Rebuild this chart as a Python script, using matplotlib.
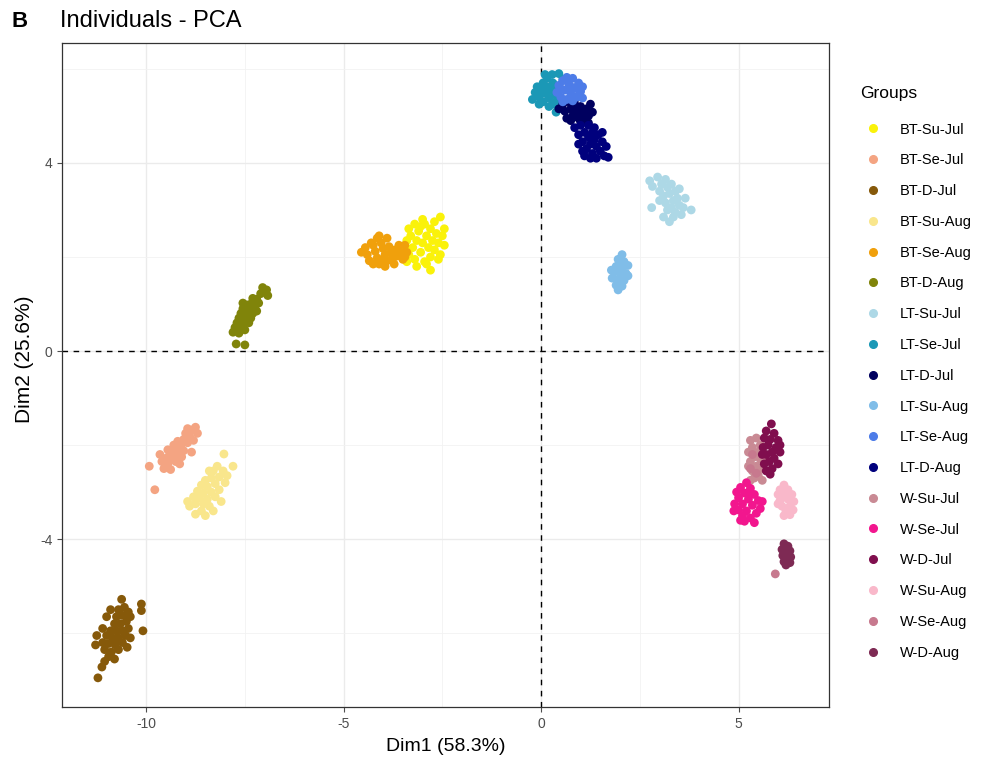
import numpy as np
import matplotlib
matplotlib.use("Agg")
import matplotlib.pyplot as plt
from matplotlib.lines import Line2D

plt.rcParams['font.family'] = ['Liberation Sans', 'DejaVu Sans']
plt.rcParams['axes.unicode_minus'] = False

# individual coordinates (Dim1, Dim2), one list per group
bt_su_jul = [(-3.45,2.20), (-3.40,2.35), (-3.35,2.05), (-3.30,2.45), (-3.25,2.20), (-3.20,1.95),
             (-3.15,2.35), (-3.10,2.55), (-3.05,2.10), (-3.00,2.30), (-2.95,1.90), (-2.95,2.70),
             (-2.90,2.45), (-2.85,2.20), (-2.80,2.60), (-2.80,2.00), (-2.75,2.35), (-2.70,2.15),
             (-2.65,2.50), (-2.60,2.30), (-2.55,2.05), (-2.55,2.85), (-2.50,2.45), (-2.45,2.25),
             (-2.45,2.60), (-3.15,1.80), (-2.80,1.72), (-3.00,2.80), (-3.35,2.60), (-2.70,2.75),
             (-3.20,2.70), (-2.90,1.85), (-3.05,2.65), (-2.60,1.95), (-3.40,1.90)]
bt_se_jul = [(-8.75,-1.62), (-8.85,-1.68), (-8.95,-1.65), (-8.90,-1.80), (-9.00,-1.75), (-9.05,-1.88),
             (-8.95,-1.95), (-9.10,-1.98), (-9.20,-1.92), (-9.15,-2.08), (-9.25,-2.05), (-9.05,-2.12),
             (-9.30,-2.15), (-9.20,-2.22), (-9.40,-2.20), (-9.35,-2.30), (-9.50,-2.28), (-9.25,-2.35),
             (-9.45,-2.40), (-9.60,-2.35), (-9.55,-2.50), (-9.38,-2.52), (-9.15,-2.40), (-9.65,-2.20),
             (-9.10,-2.25), (-8.80,-1.90), (-9.92,-2.45), (-9.78,-2.95), (-8.85,-2.15), (-9.30,-2.00),
             (-9.45,-2.10), (-8.70,-1.75)]
bt_d_jul = [(-10.62,-5.28), (-10.12,-5.38), (-10.12,-5.52), (-10.08,-5.95), (-11.05,-6.60),
            (-11.22,-6.95), (-11.12,-6.72), (-10.70,-5.50), (-10.55,-5.45), (-10.45,-5.55),
            (-10.90,-5.50), (-11.00,-5.65), (-10.40,-5.65), (-10.60,-5.62), (-10.75,-5.65),
            (-10.50,-5.75), (-10.65,-5.80), (-10.80,-5.80), (-10.45,-5.90), (-10.60,-5.95),
            (-10.75,-5.95), (-10.90,-5.95), (-11.10,-5.90), (-11.25,-6.05), (-10.52,-6.05),
            (-10.70,-6.10), (-10.85,-6.10), (-11.00,-6.05), (-10.60,-6.20), (-10.78,-6.25),
            (-10.95,-6.22), (-11.10,-6.20), (-11.28,-6.25), (-10.70,-6.35), (-10.88,-6.40),
            (-11.05,-6.35), (-10.80,-6.55), (-10.95,-6.50), (-10.40,-6.10), (-10.48,-6.30)]
bt_su_aug = [(-8.03,-2.19), (-7.80,-2.45), (-8.20,-2.45), (-8.05,-2.55), (-8.30,-2.55), (-7.95,-2.65),
             (-8.15,-2.68), (-8.35,-2.70), (-8.50,-2.75), (-8.00,-2.80), (-8.25,-2.82), (-8.45,-2.88),
             (-8.60,-2.85), (-8.15,-2.95), (-8.35,-3.00), (-8.55,-3.02), (-8.70,-2.98), (-8.25,-3.10),
             (-8.45,-3.15), (-8.65,-3.12), (-8.80,-3.10), (-8.55,-3.25), (-8.75,-3.25), (-8.40,-3.30),
             (-8.90,-3.30), (-8.60,-3.40), (-8.75,-3.47), (-8.30,-3.40), (-8.40,-2.55), (-8.10,-3.20),
             (-8.95,-3.20), (-8.50,-3.50)]
bt_se_aug = [(-4.55,2.10), (-4.45,2.20), (-4.40,2.05), (-4.35,1.92), (-4.25,2.25), (-4.20,2.12),
             (-4.15,1.98), (-4.10,1.85), (-4.05,2.30), (-4.00,2.18), (-3.95,2.05), (-3.90,1.92),
             (-3.85,2.22), (-3.80,2.10), (-3.75,1.98), (-3.70,2.15), (-3.65,2.02), (-3.60,2.25),
             (-3.55,2.10), (-3.50,1.95), (-3.90,2.40), (-3.95,1.80), (-4.15,2.40), (-3.45,2.25),
             (-3.45,2.00), (-4.30,2.30), (-4.00,1.95), (-3.72,1.85), (-4.25,1.85), (-3.40,2.10),
             (-4.10,2.45)]
bt_d_aug = [(-6.95,1.30), (-7.05,1.35), (-7.10,1.22), (-6.92,1.18), (-7.20,1.10), (-7.30,1.12),
            (-7.15,1.02), (-7.35,1.00), (-7.45,0.98), (-7.25,0.92), (-7.40,0.88), (-7.55,0.90),
            (-7.30,0.80), (-7.45,0.78), (-7.60,0.80), (-7.50,0.68), (-7.65,0.70), (-7.35,0.70),
            (-7.55,0.58), (-7.70,0.60), (-7.40,0.60), (-7.60,0.48), (-7.75,0.50), (-7.50,0.45),
            (-7.65,0.38), (-7.80,0.40), (-7.72,0.15), (-7.50,0.13), (-7.20,0.85), (-7.55,1.02)]
lt_su_jul = [(2.75,3.62), (2.95,3.70), (2.82,3.50), (3.05,3.55), (3.15,3.65), (3.00,3.40), (3.10,3.30),
             (3.20,3.48), (3.30,3.55), (3.25,3.35), (3.35,3.20), (3.15,3.15), (3.40,3.40), (3.45,3.25),
             (3.30,3.05), (3.50,3.10), (3.20,3.00), (3.40,2.95), (3.60,3.05), (3.55,2.90), (3.35,2.85),
             (3.65,3.25), (3.80,3.00), (3.10,2.85), (2.80,3.05), (3.00,3.20), (3.50,3.45), (3.25,2.75)]
lt_se_jul = [(-0.22,5.35), (-0.15,5.50), (-0.10,5.62), (-0.05,5.40), (0.00,5.55), (0.05,5.70),
             (0.05,5.30), (0.10,5.48), (0.15,5.62), (0.15,5.80), (0.20,5.38), (0.25,5.55), (0.30,5.70),
             (0.30,5.25), (0.35,5.45), (0.40,5.60), (0.45,5.90), (0.40,5.32), (0.20,5.20), (0.38,5.08),
             (-0.05,5.25), (0.10,5.88), (0.55,5.78), (0.28,5.88)]
lt_d_jul = [(0.45,5.15), (0.55,5.25), (0.60,5.10), (0.70,5.30), (0.75,5.15), (0.80,5.00), (0.85,5.25),
            (0.90,5.10), (0.95,4.95), (1.00,5.20), (1.05,5.05), (1.10,4.90), (1.15,5.15), (1.20,5.00),
            (1.25,5.25), (1.00,4.88), (0.65,4.95), (1.30,5.08), (0.85,5.35), (1.20,4.85), (0.75,4.90)]
lt_su_aug = [(2.05,2.05), (1.95,1.95), (2.10,1.90), (1.90,1.80), (2.05,1.78), (2.20,1.82), (1.85,1.68),
             (2.00,1.65), (2.15,1.65), (1.80,1.55), (1.95,1.52), (2.10,1.50), (1.90,1.40), (2.05,1.38),
             (1.95,1.30), (2.20,1.60), (1.78,1.72), (2.00,1.88)]
lt_se_aug = [(0.40,5.50), (0.45,5.65), (0.50,5.40), (0.55,5.75), (0.60,5.55), (0.65,5.35), (0.70,5.68),
             (0.75,5.48), (0.80,5.80), (0.85,5.60), (0.90,5.40), (0.95,5.70), (1.00,5.52), (1.05,5.38),
             (0.65,5.82), (0.55,5.30), (0.80,5.32), (0.75,5.62), (0.95,5.55), (0.50,5.58), (1.05,5.62)]
lt_d_aug = [(0.85,4.75), (0.95,4.60), (1.00,4.80), (1.05,4.45), (1.10,4.65), (1.15,4.30), (1.20,4.55),
            (1.20,4.80), (1.25,4.40), (1.30,4.20), (1.30,4.65), (1.35,4.50), (1.40,4.10), (1.40,4.35),
            (1.45,4.60), (1.50,4.25), (1.55,4.45), (1.60,4.15), (1.65,4.35), (1.70,4.12), (1.10,4.15),
            (0.95,4.40), (1.35,4.75), (1.55,4.65), (1.25,4.10), (1.05,4.25)]
w_su_jul = [(5.30,-1.90), (5.45,-1.85), (5.55,-2.00), (5.35,-2.05), (5.25,-2.15), (5.50,-2.15),
            (5.40,-2.25), (5.30,-2.35), (5.55,-2.30), (5.45,-2.45), (5.35,-2.55), (5.60,-2.50),
            (5.50,-2.65), (5.40,-2.70), (5.60,-2.75), (5.30,-2.75), (5.25,-2.45), (5.65,-2.25)]
w_se_jul = [(5.20,-2.80), (5.05,-2.90), (5.30,-2.92), (4.95,-3.00), (5.15,-3.02), (5.40,-3.05),
            (5.00,-3.12), (5.25,-3.15), (5.50,-3.18), (4.90,-3.25), (5.10,-3.25), (5.35,-3.28),
            (5.55,-3.35), (5.00,-3.38), (5.20,-3.40), (5.45,-3.45), (5.10,-3.50), (5.30,-3.55),
            (5.15,-3.62), (5.40,-3.65), (4.88,-3.40), (5.60,-3.20), (5.25,-3.02), (5.05,-3.60)]
w_d_jul = [(5.83,-1.55), (5.70,-1.70), (5.90,-1.75), (5.65,-1.85), (5.80,-1.88), (6.00,-1.90),
           (5.75,-2.00), (5.95,-2.05), (5.62,-2.05), (5.85,-2.15), (6.05,-2.15), (5.70,-2.20),
           (5.90,-2.28), (5.78,-2.35), (6.00,-2.40), (5.85,-2.50), (5.70,-2.55), (5.65,-2.40),
           (6.05,-2.00), (5.60,-2.20), (5.80,-2.62)]
w_su_aug = [(6.15,-2.85), (6.05,-2.95), (6.25,-2.95), (6.00,-3.05), (6.15,-3.05), (6.35,-3.05),
            (6.05,-3.18), (6.25,-3.15), (6.40,-3.20), (6.10,-3.30), (6.30,-3.30), (6.20,-3.40),
            (6.38,-3.38), (6.15,-3.50), (6.30,-3.48), (6.00,-3.25)]
w_se_aug = [(5.93,-4.74), (5.35,-2.20), (5.45,-2.60), (5.30,-2.50)]
w_d_aug = [(6.15,-4.10), (6.25,-4.15), (6.10,-4.22), (6.30,-4.25), (6.20,-4.30), (6.12,-4.35),
           (6.32,-4.38), (6.22,-4.42), (6.15,-4.48), (6.30,-4.50), (6.20,-4.55)]

groups = ["BT-Su-Jul", "BT-Se-Jul", "BT-D-Jul", "BT-Su-Aug", "BT-Se-Aug", "BT-D-Aug",
          "LT-Su-Jul", "LT-Se-Jul", "LT-D-Jul", "LT-Su-Aug", "LT-Se-Aug", "LT-D-Aug",
          "W-Su-Jul", "W-Se-Jul", "W-D-Jul", "W-Su-Aug", "W-Se-Aug", "W-D-Aug"]
points = [bt_su_jul, bt_se_jul, bt_d_jul, bt_su_aug, bt_se_aug, bt_d_aug,
          lt_su_jul, lt_se_jul, lt_d_jul, lt_su_aug, lt_se_aug, lt_d_aug,
          w_su_jul, w_se_jul, w_d_jul, w_su_aug, w_se_aug, w_d_aug]
colors = ["#FAF20A", "#F4A482", "#86590A", "#F9E68C", "#F0A00C", "#80840A",
          "#ADD8E6", "#1B98B6", "#00005F", "#80BDE8", "#4D7CE8", "#00007D",
          "#C98A94", "#F2168E", "#800E4E", "#F9B8CA", "#C7798E", "#7E2A54"]

fig = plt.figure(figsize=(9.84, 7.63), dpi=100)
ax = fig.add_axes([0.063, 0.0734, 0.7795, 0.8702])

for name, pts, c in zip(groups, points, colors):
    arr = np.array(pts)
    ax.scatter(arr[:, 0], arr[:, 1], s=40, color=c, edgecolors="none", label=name, zorder=3)

ax.axvline(0, color="black", ls=(0, (4, 4)), lw=1, zorder=2)
ax.axhline(0, color="black", ls=(0, (4, 4)), lw=1, zorder=2)

ax.set_xlim(-12.13, 7.29)
ax.set_ylim(-7.57, 6.55)
ax.set_xticks([-10, -5, 0, 5])
ax.set_yticks([-4, 0, 4])
ax.set_xticks([-7.5, -2.5, 2.5], minor=True)
ax.set_yticks([-6, -2, 2, 6], minor=True)
ax.grid(which="major", color="#EBEBEB", lw=1, zorder=0)
ax.grid(which="minor", color="#F2F2F2", lw=0.6, zorder=0)
ax.set_axisbelow(True)
ax.tick_params(which="major", colors="#4D4D4D", labelsize=10, length=3.5, width=0.8)
ax.tick_params(which="minor", length=0)
for sp in ax.spines.values():
    sp.set_color("#333333")
    sp.set_linewidth(0.9)

ax.set_xlabel("Dim1 (58.3%)", fontsize=14, labelpad=5)
ax.set_ylabel("Dim2 (25.6%)", fontsize=15)
ax.yaxis.set_label_coords(-0.037, 0.524)

fig.text(0.012, 0.972, "B", fontsize=16, fontweight="bold", va="center")
fig.text(0.061, 0.972, "Individuals - PCA", fontsize=17, va="center")

# legend title drawn on its own, entries below it
fig.text(0.874, 0.878, "Groups", fontsize=12.5, va="center")
handles = [Line2D([], [], marker="o", ls="", color=c, markersize=5.5) for c in colors]
ax.legend(handles, groups, loc="upper left", bbox_to_anchor=(1.031, 0.889),
          frameon=False, fontsize=10.5, labelspacing=1.15, handletextpad=0.8,
          borderaxespad=0)

fig.savefig("out.png", dpi=100)
